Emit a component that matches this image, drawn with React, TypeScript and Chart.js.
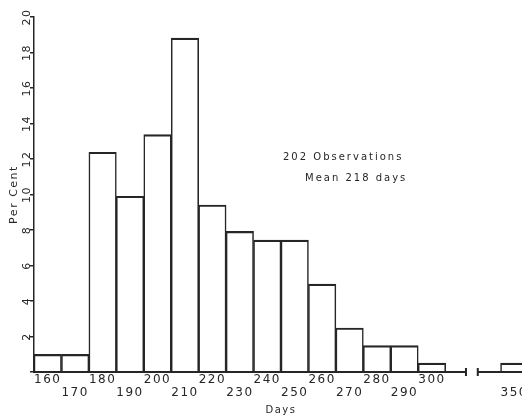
import React, { useEffect, useRef } from 'react';
import { Chart, registerables } from 'chart.js';

Chart.register(...registerables);

// ---- data ----
const dayLabels = ['160', '170', '180', '190', '200', '210', '220', '230', '240', '250', '260', '270', '280', '290', '300', '', '', '350'];
const percentValues = [0.99, 0.99, 12.38, 9.9, 13.37, 18.81, 9.41, 7.92, 7.43, 7.43, 4.95, 2.48, 1.49, 1.49, 0.5, null, null, 0.5];
const yMin = 0;
const yMax = 20;
const yStep = 2;
const noteLines = ['202 Observations', 'Mean 218 days'];
const xTitle = 'Days';
const yTitle = 'Per Cent';

const INK = '#262626';
const FONT = "'DejaVu Sans', sans-serif";

const decorPlugin = {
  id: 'decor',
  beforeUpdate(chart: any) {
    chart.ctx.letterSpacing = '1.5px';
  },
  beforeDraw(chart: any) {
    chart.ctx.letterSpacing = '1.5px';
  },
  afterDraw(chart: any) {
    const { ctx, chartArea, scales } = chart;
    const x = scales.x;
    const y = scales.y;
    const y0 = y.getPixelForValue(0);
    const b1 = x.getPixelForValue(15.24);
    const b2 = x.getPixelForValue(15.67);
    ctx.save();
    ctx.strokeStyle = INK;
    ctx.lineWidth = 2;
    ctx.beginPath();
    ctx.moveTo(chartArea.left - 1, y0);
    ctx.lineTo(b1, y0);
    ctx.moveTo(b2, y0);
    ctx.lineTo(chartArea.right + 20, y0);
    ctx.moveTo(b1, y0 - 4);
    ctx.lineTo(b1, y0 + 4);
    ctx.moveTo(b2, y0 - 4);
    ctx.lineTo(b2, y0 + 4);
    ctx.stroke();

    ctx.fillStyle = INK;
    ctx.font = `10px ${FONT}`;
    ctx.textBaseline = 'middle';
    ctx.textAlign = 'left';
    (ctx as any).letterSpacing = '2px';
    ctx.fillText(noteLines[0], 283, 157);
    (ctx as any).letterSpacing = '2px';
    ctx.fillText(noteLines[1], 305, 178);
    ctx.restore();
  },
};

export default function App() {
  const ref = useRef<HTMLCanvasElement | null>(null);

  useEffect(() => {
    if (!ref.current) return;
    Chart.defaults.font.family = FONT;
    Chart.defaults.color = INK;
    const chart = new Chart(ref.current, {
      type: 'bar',
      data: {
        labels: dayLabels,
        datasets: [
          {
            data: percentValues as any,
            backgroundColor: 'rgba(255,255,255,0)',
            borderColor: INK,
            borderWidth: { top: 1.5, left: 0.9, right: 0.9, bottom: 0 } as any,
            borderSkipped: 'start',
            barPercentage: 1,
            categoryPercentage: 1,
          },
        ],
      },
      options: {
        responsive: false,
        animation: false,
        devicePixelRatio: 1,
        layout: { padding: { top: 17, right: 32, left: 0, bottom: 0 } },
        plugins: {
          legend: { display: false },
          tooltip: { enabled: false },
        },
        scales: {
          x: {
            type: 'category',
            offset: true,
            grid: { display: false, drawTicks: false },
            border: { display: false },
            ticks: {
              autoSkip: false,
              maxRotation: 0,
              minRotation: 0,
              padding: 1,
              font: { size: 12, lineHeight: 1.1 },
              callback: (_v: any, i: number) => (i % 2 === 0 ? dayLabels[i] : ['', dayLabels[i]]),
            },
            title: {
              display: true,
              text: xTitle,
              font: { size: 10 },
              padding: { top: 0, bottom: 2 },
            },
            afterFit: (s: any) => {
              s.height = 46;
            },
          },
          y: {
            type: 'linear',
            min: yMin,
            max: yMax,
            border: { display: true, color: INK, width: 1.5 },
            grid: { drawOnChartArea: false, drawTicks: true, tickLength: 4, color: INK, lineWidth: 1.5 },
            ticks: {
              stepSize: yStep,
              minRotation: 90,
              maxRotation: 90,
              crossAlign: 'center',
              padding: -6,
              font: { size: 11 },
              callback: (v: any) => (v === 0 ? '' : String(v)),
            },
            title: {
              display: true,
              text: yTitle,
              font: { size: 11 },
              padding: { top: 8, bottom: 0 },
            },
            afterFit: (s: any) => {
              s.width = 34;
            },
          },
        },
      },
      plugins: [decorPlugin],
    });
    return () => chart.destroy();
  }, []);

  return (
    <div style={{ position: 'fixed', left: 0, top: 0, width: 522, height: 418, overflow: 'hidden', background: '#fff' }}>
      <canvas ref={ref} width={560} height={418} style={{ display: 'block' }} />
    </div>
  );
}
